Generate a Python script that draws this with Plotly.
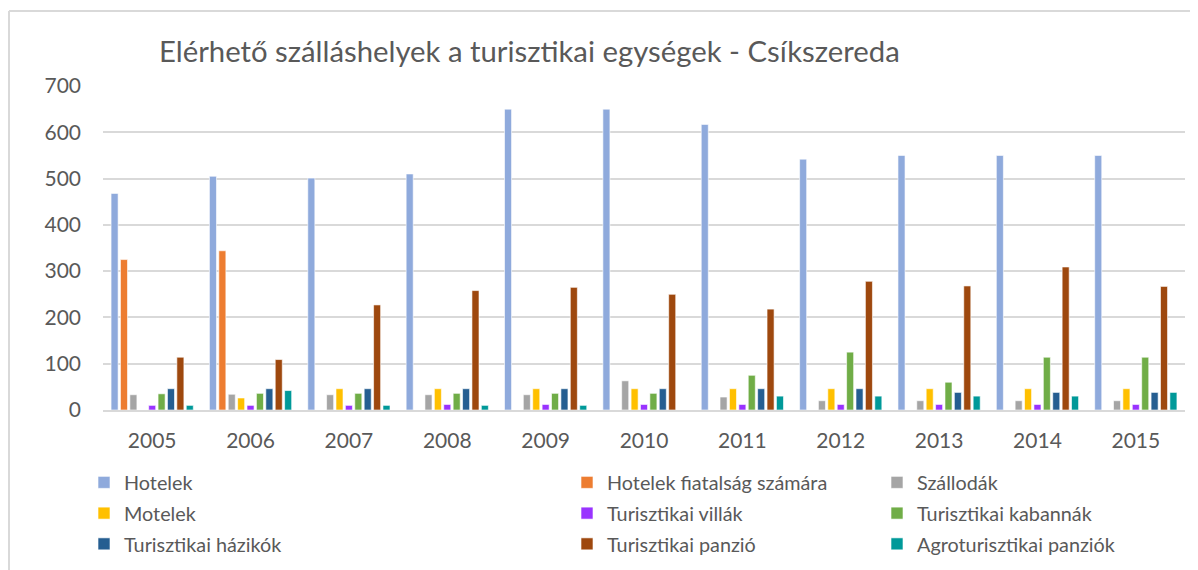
import plotly.graph_objects as go

years = ["2005", "2006", "2007", "2008", "2009", "2010", "2011", "2012", "2013", "2014", "2015"]

hotelek = [468, 505, 501, 510, 650, 650, 617, 542, 550, 550, 550]
hotelek_fiatal = [325, 344, 0, 0, 0, 0, 0, 0, 0, 0, 0]
szallodak = [33, 34, 33, 33, 33, 63, 28, 20, 20, 20, 20]
motelek = [0, 26, 46, 46, 46, 46, 46, 46, 46, 46, 46]
villak = [10, 10, 10, 12, 12, 12, 12, 12, 12, 12, 12]
kabannak = [35, 36, 36, 36, 36, 36, 75, 125, 60, 114, 114]
hazikok = [46, 46, 46, 46, 46, 46, 46, 46, 38, 38, 38]
panzio = [114, 109, 227, 258, 265, 250, 218, 278, 268, 309, 267]
agro = [10, 42, 10, 10, 10, 0, 30, 30, 30, 30, 38]

series = [
    ("Hotelek", hotelek, "#8FAADC", "legend"),
    ("Hotelek fiatalság számára", hotelek_fiatal, "#ED7D31", "legend2"),
    ("Szállodák", szallodak, "#A5A5A5", "legend3"),
    ("Motelek", motelek, "#FFC000", "legend"),
    ("Turisztikai villák", villak, "#9933FF", "legend2"),
    ("Turisztikai kabannák", kabannak, "#70AD47", "legend3"),
    ("Turisztikai házikók", hazikok, "#255E91", "legend"),
    ("Turisztikai panzió", panzio, "#9E480E", "legend2"),
    ("Agroturisztikai panziók", agro, "#009999", "legend3"),
]

W, H = 1190, 562  # page body has an 8px margin
PL, PR, PT, PB = 95, 1177, 78, 402

fig = go.Figure()
for i, (name, vals, color, leg) in enumerate(series):
    fig.add_trace(go.Bar(
        x=years, y=vals, name=name, marker_color=color,
        marker_line=dict(color="rgba(255,255,255,0.6)", width=1),
        legend=leg, legendgroup=name,
    ))

font = "Lato, 'Open Sans', sans-serif"
leg_common = dict(
    orientation="v", yref="container", yanchor="top", y=1 - 455 / H,
    xref="container", xanchor="left",
    font=dict(family=font, size=19.8, color="#595959"),
    tracegroupgap=2, bgcolor="rgba(0,0,0,0)", itemwidth=30,
)

px = lambda v: (v - PL) / (PR - PL)
py = lambda v: (PB - v) / (PB - PT)

fig.update_layout(
    width=W, height=H,
    paper_bgcolor="white", plot_bgcolor="white",
    margin=dict(l=PL, r=W - PR, t=PT, b=H - PB, autoexpand=False),
    barmode="group", bargap=0.14, bargroupgap=0.25,
    font=dict(family=font, size=19, color="#595959"),
    title=dict(
        text="Elérhető szálláshelyek a turisztikai egységek - Csíkszereda",
        x=151 / W, xanchor="left", y=1 - 44 / H, yanchor="middle",
        font=dict(family=font, size=29.3, color="#595959"),
    ),
    xaxis=dict(showgrid=False, showline=True, linecolor="#D9D9D9", linewidth=2,
               ticks="", ticklabelstandoff=11,
               tickfont=dict(size=21, color="#595959")),
    yaxis=dict(range=[0, 700], dtick=100, showgrid=True, gridcolor="#D9D9D9",
               gridwidth=2, zeroline=False, ticks="", ticklabelstandoff=21,
               tickfont=dict(size=21, color="#595959")),
    legend=dict(x=76 / W, **leg_common),
    legend2=dict(x=559 / W, **leg_common),
    legend3=dict(x=869 / W, **leg_common),
    shapes=[
        dict(type="line", xref="paper", yref="paper",
             x0=px(1), x1=px(1), y0=py(3), y1=py(H + 5),
             line=dict(color="#D9D9D9", width=2)),
        dict(type="line", xref="paper", yref="paper",
             x0=px(1), x1=px(W + 5), y0=py(3), y1=py(3),
             line=dict(color="#D9D9D9", width=2)),
    ],
)

fig.write_html("out.html")
